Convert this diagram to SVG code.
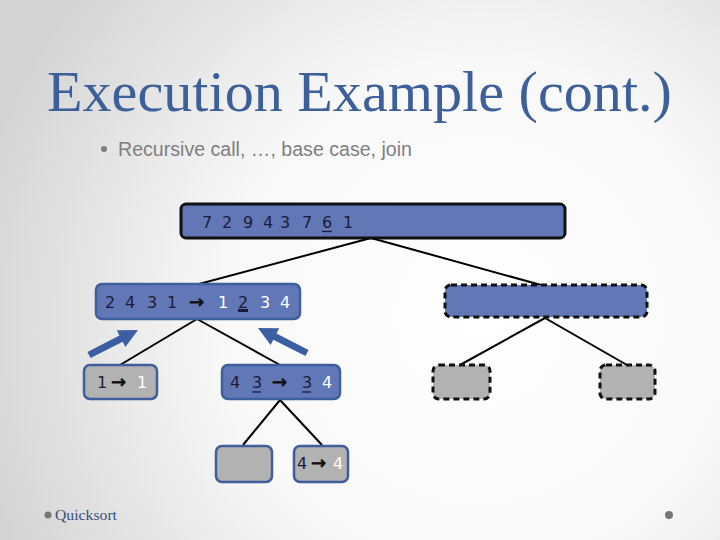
<svg xmlns="http://www.w3.org/2000/svg" width="720" height="540" viewBox="0 0 720 540">
<defs>
<radialGradient id="bg" cx="480" cy="320" r="520" gradientUnits="userSpaceOnUse">
<stop offset="0" stop-color="#ffffff"/>
<stop offset="0.5" stop-color="#f8f8f8"/>
<stop offset="1" stop-color="#d4d4d4"/>
</radialGradient>
<polygon id="barrow" points="0,-3.5 36,-3.5 36,-9.5 55,0 36,9.5 36,3.5 0,3.5"/>
</defs>
<style>
.blue{fill:#6177b6}
.grey{fill:#b2b2b2}
.solidb{stroke:#3f5e9c;stroke-width:2.5}
.rootb{stroke:#111;stroke-width:3}
.dash{stroke:#111;stroke-width:3;stroke-dasharray:6 4}
.d{font-family:"DejaVu Sans",Verdana,sans-serif;font-size:16px;fill:#1c1c3a}
.w{fill:#ffffff}
.ar{font-family:"DejaVu Sans",sans-serif;font-size:18px;fill:#111;stroke:#111;stroke-width:0.7}
.conn line{stroke:#000;stroke-width:2}
</style>
<rect width="720" height="540" fill="url(#bg)"/>
<text x="47" y="111" font-family="'Liberation Serif','Times New Roman',serif" font-size="58" fill="#3d5f9a" textLength="625" lengthAdjust="spacingAndGlyphs">Execution Example (cont.)</text>
<g id="subtitle" font-family="'Liberation Sans',Arial,sans-serif" font-size="20" fill="#7f7f7f">
<circle cx="104" cy="149" r="3"/>
<text x="118" y="156" textLength="294" lengthAdjust="spacingAndGlyphs">Recursive call, …, base case, join</text>
</g>
<g id="connectors" class="conn">
<line x1="371" y1="238" x2="199" y2="284"/>
<line x1="371" y1="238" x2="541" y2="285"/>
<line x1="197" y1="319" x2="120" y2="365"/>
<line x1="197" y1="319" x2="280" y2="365"/>
<line x1="545" y1="318" x2="460" y2="365"/>
<line x1="545" y1="318" x2="627" y2="365"/>
<line x1="280" y1="400" x2="243" y2="445"/>
<line x1="280" y1="400" x2="322" y2="445"/>
</g>
<g id="root">
<rect x="181" y="204" width="384" height="34" rx="5" class="blue rootb"/>
<text class="d" y="228" x="202 222 243 263 280 302 322 343">72943761</text>
<line x1="322" y1="231.5" x2="332" y2="231.5" stroke="#1c1c3a" stroke-width="1.3"/>
</g>
<g id="left">
<rect x="96" y="284" width="204" height="35" rx="6" class="blue solidb"/>
<text class="d" y="308" x="105 125 147 167">2431</text>
<text class="ar" x="189" y="308">→</text>
<text class="d w" y="308" x="218">1</text>
<text class="d" y="308" x="238">2</text>
<text class="d w" y="308" x="260 280">34</text>
<rect x="238" y="309" width="10" height="3" fill="#1c1c3a"/>
</g>
<g id="right">
<rect x="445" y="285" width="202" height="32" rx="6" class="blue dash"/>
</g>
<g id="ll">
<rect x="84" y="365" width="73" height="34" rx="6" class="grey solidb"/>
<text class="d" y="388" x="97">1</text>
<text class="ar" x="111" y="388">→</text>
<text class="d w" y="388" x="137">1</text>
</g>
<g id="lr">
<rect x="222" y="365" width="118" height="34" rx="6" class="blue solidb"/>
<text class="d" y="388" x="230 252">43</text>
<text class="ar" x="272" y="388">→</text>
<text class="d" y="388" x="302">3</text>
<text class="d w" y="388" x="322">4</text>
<line x1="252" y1="392" x2="261" y2="392" stroke="#1c1c3a" stroke-width="1.3"/>
<line x1="302" y1="392" x2="311" y2="392" stroke="#1c1c3a" stroke-width="1.3"/>
</g>
<g id="rl">
<rect x="433" y="365" width="57" height="34" rx="6" class="grey dash"/>
</g>
<g id="rr">
<rect x="600" y="365" width="55" height="34" rx="6" class="grey dash"/>
</g>
<g id="lrl">
<rect x="216" y="446" width="56" height="36" rx="6" class="grey solidb"/>
</g>
<g id="lrr">
<rect x="294" y="446" width="54" height="36" rx="6" class="grey solidb"/>
<text class="d" y="469" x="297">4</text>
<text class="ar" x="311" y="469">→</text>
<text class="d w" y="469" x="333">4</text>
</g>
<g id="callarrows" fill="#3c5fa3">
<use href="#barrow" transform="translate(89,355) rotate(-27)"/>
<use href="#barrow" transform="translate(307,353) rotate(-153)"/>
</g>
<g id="footer">
<circle cx="48" cy="515" r="3.5" fill="#777"/>
<text x="55" y="520" font-family="'Liberation Serif','Times New Roman',serif" font-size="15" fill="#3a4f78" textLength="62" lengthAdjust="spacingAndGlyphs">Quicksort</text>
<circle cx="669" cy="515" r="4" fill="#777"/>
</g>
</svg>
